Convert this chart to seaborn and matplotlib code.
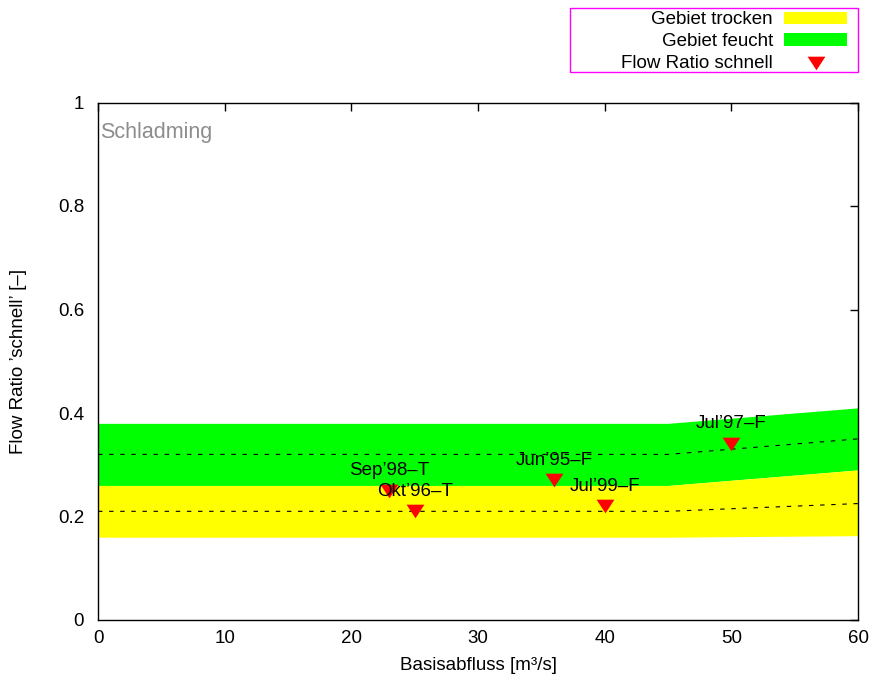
import matplotlib
matplotlib.use("Agg")
import matplotlib.pyplot as plt
import seaborn as sns
import pandas as pd
from matplotlib.patches import Rectangle

# Envelope support points (Basisabfluss in m³/s)
flow_x = [0, 45, 60]
trocken_lo = [0.16, 0.16, 0.163]
trocken_mid = [0.21, 0.21, 0.225]
trocken_hi = [0.26, 0.26, 0.29]
feucht_lo = [0.26, 0.26, 0.29]
feucht_mid = [0.32, 0.32, 0.35]
feucht_hi = [0.38, 0.38, 0.41]

# Observed events
events = ["Jun’95–F", "Okt’96–T", "Jul’97–F", "Sep’98–T", "Jul’99–F"]
event_x = [36, 25, 50, 23, 40]
event_y = [0.27, 0.21, 0.34, 0.25, 0.22]

x_ticks = [0, 10, 20, 30, 40, 50, 60]
y_ticks = [0, 0.2, 0.4, 0.6, 0.8, 1.0]
y_tick_labels = ["0", "0.2", "0.4", "0.6", "0.8", "1"]

FS = 13.5

sns.set_theme(style="white")
plt.rcParams["font.family"] = ["Liberation Sans", "DejaVu Sans"]
plt.rcParams["font.size"] = FS
plt.rcParams["text.color"] = "black"
plt.rcParams["axes.labelcolor"] = "black"
plt.rcParams["xtick.color"] = "black"
plt.rcParams["ytick.color"] = "black"

env = pd.DataFrame({"x": flow_x, "t_lo": trocken_lo, "t_mid": trocken_mid, "t_hi": trocken_hi,
                    "f_lo": feucht_lo, "f_mid": feucht_mid, "f_hi": feucht_hi})
obs = pd.DataFrame({"x": event_x, "y": event_y, "name": events})

# flat downward triangle, wider than tall
tri = [(-8.5, 6.5), (8.5, 6.5), (0, -6.5), (-8.5, 6.5)]

fig = plt.figure(figsize=(8.72, 6.8), dpi=100)
ax = fig.add_axes([98 / 872, 1 - 620 / 680, 760 / 872, 517.5 / 680])

ax.fill_between(env["x"], env["f_lo"], env["f_hi"], color="#00ff00", linewidth=0,
                label="Gebiet feucht", zorder=1)
ax.fill_between(env["x"], env["t_lo"], env["t_hi"], color="#ffff00", linewidth=0,
                label="Gebiet trocken", zorder=2)

dash = (0, (4, 6))
sns.lineplot(data=env, x="x", y="f_mid", ax=ax, color="black", lw=0.8,
             linestyle=dash, legend=False, zorder=3)
sns.lineplot(data=env, x="x", y="t_mid", ax=ax, color="black", lw=0.8,
             linestyle=dash, legend=False, zorder=3)

sns.scatterplot(data=obs, x="x", y="y", ax=ax, marker=tri, color="red", s=165,
                linewidth=0, label="Flow Ratio schnell", zorder=4)

for name, xv, yv in zip(events, event_x, event_y):
    ax.annotate(name, (xv, yv), xytext=(0, 14.5), textcoords="offset points",
                ha="center", va="center", fontsize=FS, color="black", zorder=5)

ax.text(0.003, 0.942, "Schladming", transform=ax.transAxes, fontsize=15.5,
        color="#8c8c8c", ha="left", va="center")

ax.set_xlim(0, 60)
ax.set_ylim(0, 1)
ax.set_xticks(x_ticks)
ax.set_yticks(y_ticks)
ax.set_yticklabels(y_tick_labels)
ax.tick_params(axis="both", direction="in", length=6, width=1, color="black",
               top=True, right=True, labelsize=FS, labelcolor="black")
ax.tick_params(axis="x", pad=7)
ax.tick_params(axis="y", pad=10)
for sp in ax.spines.values():
    sp.set_color("black")
    sp.set_linewidth(1.0)

ax.set_xlabel("Basisabfluss [m³/s]", fontsize=FS)
ax.set_ylabel("Flow Ratio ’schnell’ [–]", fontsize=FS)
ax.xaxis.set_label_coords(0.5, (620 - 665) / 517.5)
ax.xaxis.label.set_va("center")
ax.yaxis.set_label_coords((19 - 98) / 760, 0.5)
ax.yaxis.label.set_va("center")

handles, labels = ax.get_legend_handles_labels()
order = ["Gebiet trocken", "Gebiet feucht", "Flow Ratio schnell"]
hmap = dict(zip(labels, handles))
if ax.get_legend() is not None:
    ax.get_legend().remove()
fig.legend([hmap[k] for k in order], order, loc="upper right",
           bbox_to_anchor=(847 / 872, 1 - 11.5 / 680), borderaxespad=0, borderpad=0,
           frameon=False, markerfirst=False, handlelength=3.36, handleheight=0.64,
           handletextpad=0.59, labelspacing=0.25, fontsize=FS)
fig.add_artist(Rectangle((570 / 872, 1 - 72 / 680), 288 / 872, 64 / 680,
                         transform=fig.transFigure, fill=False, edgecolor="#ff00ff",
                         linewidth=1.0))

fig.savefig("out.png", dpi=100)
